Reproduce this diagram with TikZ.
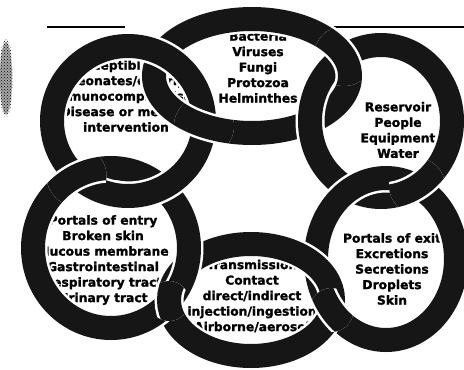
\documentclass[tikz,border=0pt]{standalone}
\usepackage{fontspec}
\setmainfont{DejaVu Sans}
\newfontfamily\heavyfont{DejaVu Sans}[UprightFont={* Bold}, FakeBold=1.5]
\usetikzlibrary{patterns}
\definecolor{bandink}{HTML}{161616}
\tikzset{
  ringhalo/.style={draw=white, line width=29pt},
  ringband/.style={draw=bandink, line width=24pt},
  ringtext/.style={align=center, inner sep=0pt, text=black,
    font=\fontsize{12.3}{15.5}\heavyfont},
  rule/.style={draw=black, line width=2.2pt},
}
% one link of the chain: white halo, then the dark band
\newcommand\linkring[3]{%
  \draw[ringhalo] (#1) ellipse [x radius=#2, y radius=#3];
  \draw[ringband] (#1) ellipse [x radius=#2, y radius=#3];}
% the same link redrawn only near a crossing, so it lies on top there
\newcommand\linkover[5]{%
  \begin{scope}
    \clip (#4) circle [radius=#5];
    \linkring{#1}{#2}{#3}
  \end{scope}}

\begin{document}
\begin{tikzpicture}[x=1pt, y=-1pt]
\useasboundingbox (0,0) rectangle (464,370);
\fill[white] (0,0) rectangle (464,370);
\clip (0,0) rectangle (464,370);

% centres of the six links
\coordinate (agentc)  at (252,76);
\coordinate (reservc) at (381,121);
\coordinate (exitc)   at (386,259);
\coordinate (transc)  at (251,300);
\coordinate (entryc)  at (111,248);
\coordinate (hostc)   at (128,121);

% crossings where the earlier link passes over the next one
\coordinate (x12) at (344,56);
\coordinate (x23) at (417,186);
\coordinate (x34) at (331.5,310);
\coordinate (x45) at (169,301);
\coordinate (x56) at (76.5,176);
\coordinate (x61) at (204,126);

% grain at the left edge
\fill[black!35] (6,78) ellipse [x radius=6pt, y radius=36pt];
\fill[pattern=crosshatch dots, pattern color=black] (6,78) ellipse [x radius=7pt, y radius=39pt];

% rule across the top
\coordinate (ruleA) at (47,27);
\coordinate (ruleB) at (125,27);
\coordinate (ruleC) at (329,27);
\coordinate (ruleD) at (464,27);
\draw[rule] (ruleA) -- (ruleB);
\draw[rule] (ruleC) -- (ruleD);

% texts inside the links
\node[ringtext] (agent) at (258,67) {Bacteria\\Viruses\\Fungi\\Protozoa\\Helminthes};
\node[ringtext] (reservoir) at (398,130) {Reservoir\\People\\Equipment\\Water};
\node[ringtext] (exit) at (392,269) {Portals of exit\\Excretions\\Secretions\\Droplets\\Skin};
\node[ringtext] (transmission) at (252,296) {Transmission\\Contact\\direct/indirect\\injection/ingestion\\Airborne/aerosol};
\node[ringtext] (entry) at (103,260) {Portals of entry\\Broken skin\\Mucous membrane\\Gastrointestinal\\Respiratory tract\\Urinary tract};
\node[ringtext] (host) at (126,96) {Susceptible host\\Neonates/elderly\\Immunocompromised\\Disease or medical\\intervention};

% the chain
\linkring{agentc}{98pt}{57pt}
\linkring{reservc}{71pt}{76pt}
\linkring{exitc}{70pt}{81pt}
\linkring{transc}{82pt}{56pt}
\linkring{entryc}{78pt}{80pt}
\linkring{hostc}{76pt}{75pt}

% interlocking: each link passes over its neighbour once
\linkover{agentc}{98pt}{57pt}{x12}{30pt}
\linkover{reservc}{71pt}{76pt}{x23}{28pt}
\linkover{exitc}{70pt}{81pt}{x34}{22pt}
\linkover{transc}{82pt}{56pt}{x45}{20pt}
\linkover{entryc}{78pt}{80pt}{x56}{30pt}
\linkover{agentc}{98pt}{57pt}{x61}{30pt}
\end{tikzpicture}
\end{document}
